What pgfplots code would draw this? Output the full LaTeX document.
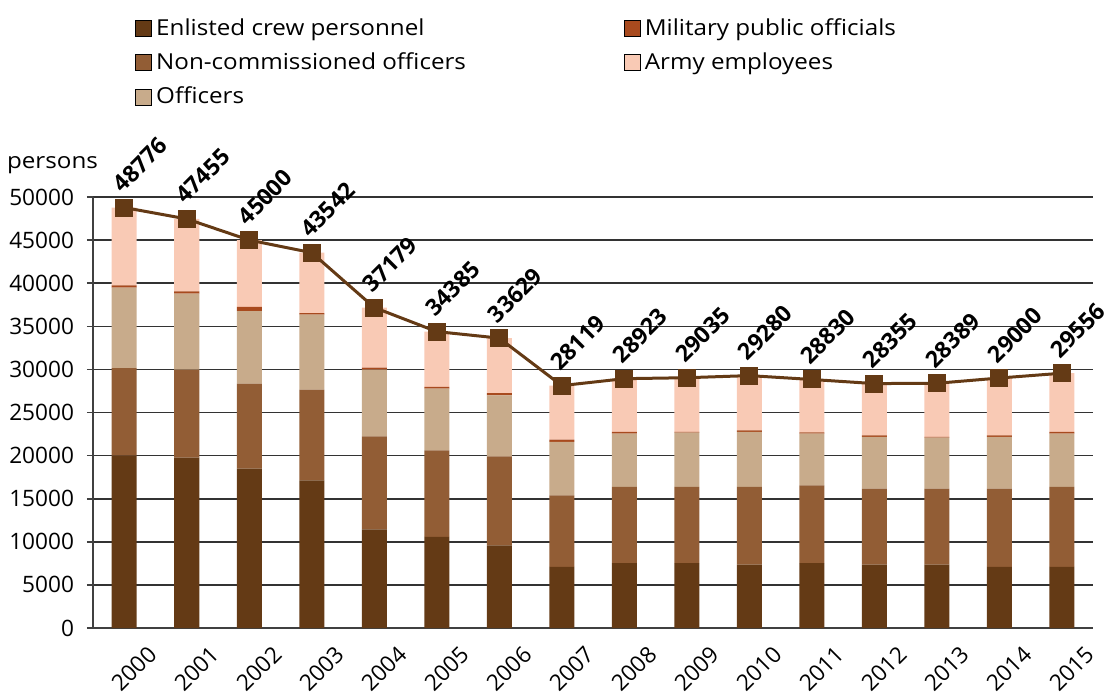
\documentclass[border=0pt]{standalone}
\usepackage{pgfplots}
\pgfplotsset{compat=1.18}
\usepackage{pgfplotstable}
\usepackage{fontspec}
\setmainfont{Open Sans}
\newfontfamily\legfont[FakeStretch=1.1]{Open Sans}
\definecolor{cEnl}{HTML}{643A15}
\definecolor{cNCO}{HTML}{925D35}
\definecolor{cOff}{HTML}{C8AB8B}
\definecolor{cMil}{HTML}{A84A1E}
\definecolor{cArmy}{HTML}{F9CAB5}
\definecolor{cGrid}{HTML}{333333}
\pgfplotstableread{
x enl nco off mil army total
0 20000 10150 9350 250 9026 48776
1 19760 10210 8820 260 8405 47455
2 18480 9860 8430 470 7760 45000
3 17130 10520 8700 190 7002 43542
4 11450 10790 7730 230 6979 37179
5 10560 10050 7150 200 6425 34385
6 9590 10320 7080 270 6369 33629
7 7080 8310 6190 270 6269 28119
8 7540 8820 6180 200 6183 28923
9 7540 8820 6300 100 6275 29035
10 7350 9010 6380 190 6350 29280
11 7540 9010 5990 160 6130 28830
12 7350 8810 6000 190 6005 28355
13 7350 8810 5920 100 6209 28389
14 7080 9080 6000 190 6650 29000
15 7080 9280 6180 200 6816 29556
}\datatable
\pgfplotsset{
  /pgf/number format/1000 sep={},
  /pgf/number format/assume math mode=true,
  common/.style={
    scale only axis,
    width=500pt, height=215.5pt,
    xmin=-0.5, xmax=15.5,
    ymin=0, ymax=50000,
    scaled y ticks=false,
  },
}
\begin{document}
\begin{tikzpicture}[font=\fontsize{11.3pt}{13.5pt}\selectfont]
\path[use as bounding box] (-46.5pt,-35pt) rectangle (508pt,314pt);
\begin{axis}[
  common,
  clip=false,
  ybar stacked,
  bar width=0.4,
  axis x line*=bottom,
  axis y line*=left,
  axis line style={black!75, line width=0.8pt},
  ytick={0,5000,...,50000},
  ymajorgrids,
  grid style={cGrid, line width=0.8pt},
  tick align=outside,
  major tick length=3pt,
  tick style={black!75, line width=0.8pt},
  xtick={0,...,15},
  xticklabels={2000,2001,2002,2003,2004,2005,2006,2007,2008,2009,2010,2011,2012,2013,2014,2015},
  x tick style={draw=none},
  minor xtick={-0.5,0.5,...,15.5},
  minor x tick style={black!75, line width=0.8pt},
  minor tick length=3pt,
  xticklabel style={xshift=5pt, yshift=-17.5pt, rotate=45, anchor=center},
  yticklabel style={xshift=-3pt},
  legend columns=2,
  legend cell align=left,
  legend style={at={(axis description cs:0.042,1.425)}, anchor=north west,
    draw=none, fill=none, inner sep=0pt, row sep=3.3pt,
    font=\legfont\fontsize{11pt}{13pt}\selectfont,
    /tikz/every even column/.append style={column sep=77pt}},
  legend image code/.code={\fill[#1] (0pt,-4pt) rectangle (8pt,4pt);},
]
\addlegendimage{fill=cEnl}\addlegendentry{Enlisted crew personnel}
\addlegendimage{fill=cMil}\addlegendentry{Military public officials}
\addlegendimage{fill=cNCO}\addlegendentry{Non-commissioned officers}
\addlegendimage{fill=cArmy}\addlegendentry{Army employees}
\addlegendimage{fill=cOff}\addlegendentry{Officers}
\addplot[fill=cEnl, draw=none] table[x=x, y=enl] {\datatable};
\addplot[fill=cNCO, draw=none] table[x=x, y=nco] {\datatable};
\addplot[fill=cOff, draw=none] table[x=x, y=off] {\datatable};
\addplot[fill=cMil, draw=none] table[x=x, y=mil] {\datatable};
\addplot[fill=cArmy, draw=none] table[x=x, y=army] {\datatable};
\node[anchor=base east, xshift=6pt, yshift=14.5pt, font=\legfont\fontsize{11pt}{13pt}\selectfont] at (rel axis cs:0,1) {persons};
\end{axis}
\begin{axis}[
  common,
  hide axis,
  clip=false,
]
\addplot[cEnl, line width=1.5pt, mark=square*, mark size=3.75pt, mark options={fill=cEnl},
  nodes near coords,
  every node near coord/.style={font=\fontsize{11.5pt}{13.5pt}\selectfont\bfseries, text=black, xshift=-6.5pt, yshift=7pt, rotate=45, anchor=west}]
  table[x=x, y=total] {\datatable};
\end{axis}
\end{tikzpicture}
\end{document}
